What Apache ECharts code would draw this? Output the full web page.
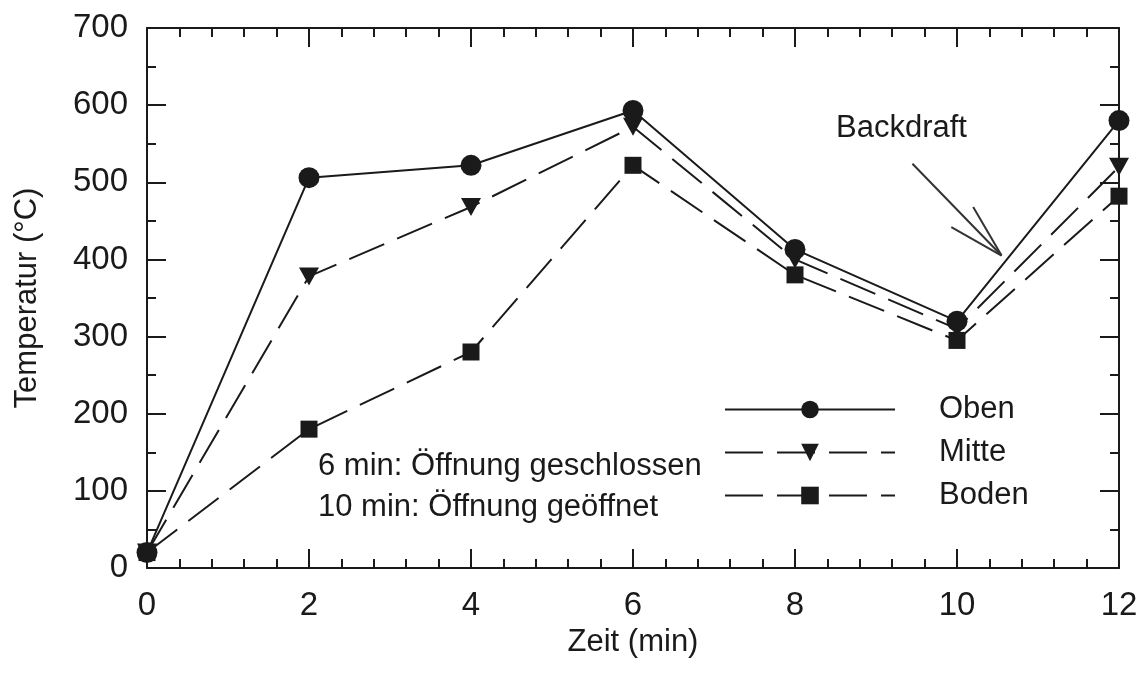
<!DOCTYPE html>
<html>
<head>
<meta charset="utf-8">
<script src="https://cdn.jsdelivr.net/npm/echarts@6/dist/echarts.min.js"></script>
<style>html,body{margin:0;padding:0;background:#fff}#c{width:1145px;height:673px}</style>
</head>
<body>
<div id="c"></div>
<script>
var times = [0, 2, 4, 6, 8, 10, 12];
var oben  = [20, 506, 522, 593, 413, 320, 580];
var mitte = [20, 378, 468, 572, 400, 310, 520];
var boden = [20, 180, 280, 522, 380, 295, 482];
var seriesNames = ['Oben', 'Mitte', 'Boden'];
var arrowShaft = [[9.45, 524], [10.55, 405]];
var arrowHead1 = [[10.20, 468], [10.55, 405]];
var arrowHead2 = [[9.93, 442], [10.55, 405]];
var noteLines = ['6 min: Öffnung geschlossen', '10 min: Öffnung geöffnet'];
var arrowLabel = 'Backdraft';

var FONT = '"Liberation Sans", Arial, sans-serif';
var INK = '#1a1a1a';

function pairs(ys) { return times.map(function (t, i) { return [t, ys[i]]; }); }
function seg(p) { return [{ coord: p[0] }, { coord: p[1] }]; }

var chart = echarts.init(document.getElementById('c'), null, { renderer: 'canvas' });

function axisBase(splitNumber) {
  return {
    axisLine: { show: true, onZero: false, lineStyle: { color: INK, width: 2 } },
    axisTick: { show: true, inside: true, length: 19, lineStyle: { color: INK, width: 2 } },
    minorTick: { show: true, splitNumber: splitNumber, length: 9, lineStyle: { color: INK, width: 2 } },
    splitLine: { show: false },
    minorSplitLine: { show: false }
  };
}

var option = {
  backgroundColor: '#fff',
  animation: false,
  grid: { left: 147, right: 26, top: 28, bottom: 105, containLabel: false },
  legend: {
    orient: 'vertical',
    left: 719, top: 389,
    itemWidth: 170, itemHeight: 22,
    itemGap: 12,
    data: seriesNames,
    textStyle: { fontFamily: FONT, fontSize: 31, color: INK, padding: [0, 0, 0, 39] },
    selectedMode: false
  },
  xAxis: [
    Object.assign(axisBase(5), {
      type: 'value', min: 0, max: 12, interval: 2, position: 'bottom',
      axisLabel: { fontFamily: FONT, fontSize: 33, color: INK, margin: 21 },
      name: 'Zeit (min)', nameLocation: 'middle', nameGap: 54,
      nameTextStyle: { fontFamily: FONT, fontSize: 31, color: INK }
    }),
    Object.assign(axisBase(5), {
      type: 'value', min: 0, max: 12, interval: 2, position: 'top',
      axisLabel: { show: false }
    })
  ],
  yAxis: [
    Object.assign(axisBase(2), {
      type: 'value', min: 0, max: 700, interval: 100, position: 'left',
      axisLabel: { fontFamily: FONT, fontSize: 33, color: INK, margin: 19 },
      name: 'Temperatur (°C)', nameLocation: 'middle', nameGap: 104, nameRotate: 90,
      nameTextStyle: { fontFamily: FONT, fontSize: 31, color: INK }
    }),
    Object.assign(axisBase(2), {
      type: 'value', min: 0, max: 700, interval: 100, position: 'right',
      axisLabel: { show: false }
    })
  ],
  series: [
    {
      name: 'Oben', type: 'line', data: pairs(oben),
      symbol: 'circle', symbolSize: 21,
      lineStyle: { color: INK, width: 2, type: 'solid' },
      itemStyle: { color: INK, borderWidth: 0 },
      z: 3
    },
    {
      name: 'Mitte', type: 'line', data: pairs(mitte),
      symbol: 'triangle', symbolSize: [20, 18], symbolRotate: 180,
      lineStyle: { color: INK, width: 2, type: [38, 14] },
      itemStyle: { color: INK, borderWidth: 0 },
      z: 4
    },
    {
      name: 'Boden', type: 'line', data: pairs(boden),
      symbol: 'rect', symbolSize: 17,
      lineStyle: { color: INK, width: 2, type: [38, 14] },
      itemStyle: { color: INK, borderWidth: 0 },
      z: 5
    },
    {
      name: 'arrow', type: 'line', data: [], silent: true,
      markLine: {
        silent: true, symbol: ['none', 'none'],
        label: { show: false },
        lineStyle: { color: '#333', width: 2, type: 'solid' },
        data: [seg(arrowShaft), seg(arrowHead1), seg(arrowHead2)]
      }
    }
  ],
  graphic: [
    { type: 'text', left: 836, top: 113, style: { text: arrowLabel, font: '31px ' + FONT, fill: INK } },
    { type: 'text', left: 318, top: 451, style: { text: noteLines[0], font: '31px ' + FONT, fill: INK } },
    { type: 'text', left: 318, top: 492, style: { text: noteLines[1], font: '31px ' + FONT, fill: INK } }
  ]
};
chart.setOption(option);
</script>
</body>
</html>
